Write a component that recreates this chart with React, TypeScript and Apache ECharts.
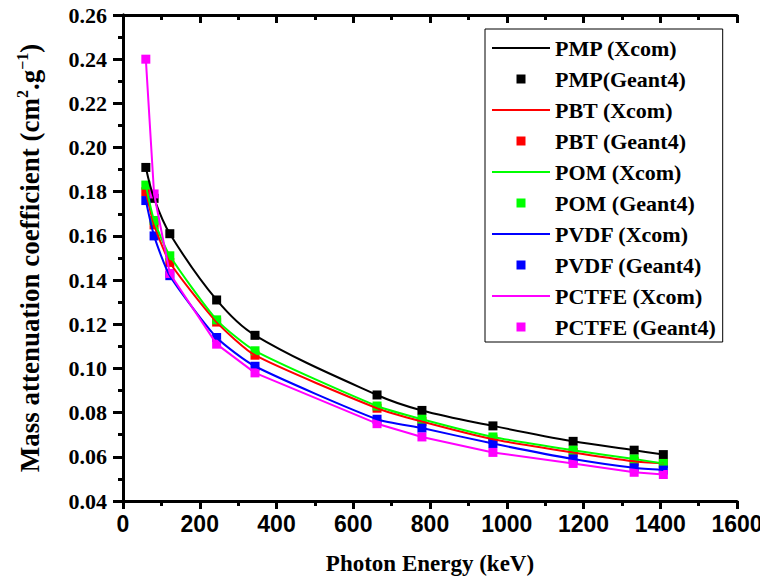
import React, { useEffect, useRef } from "react";
import * as echarts from "echarts";

const energies = [59.5, 81, 122, 244, 344, 662, 779, 964, 1173, 1332, 1408];
const pmp = [0.191, 0.177, 0.161, 0.131, 0.115, 0.088, 0.081, 0.074, 0.067, 0.063, 0.061];
const pbt = [0.180, 0.165, 0.148, 0.121, 0.106, 0.082, 0.076, 0.068, 0.062, 0.058, 0.057];
const pom = [0.183, 0.167, 0.151, 0.122, 0.108, 0.083, 0.077, 0.069, 0.063, 0.059, 0.057];
const pvdf = [0.176, 0.160, 0.142, 0.114, 0.101, 0.077, 0.073, 0.066, 0.059, 0.055, 0.054];
const pctfe = [0.240, 0.179, 0.143, 0.111, 0.098, 0.075, 0.069, 0.062, 0.057, 0.053, 0.052];

const polymers = [
  { name: "PMP", values: pmp, color: "#000000", smooth: 0.35 },
  { name: "PBT", values: pbt, color: "#ff0000", smooth: 0.2 },
  { name: "POM", values: pom, color: "#00ff00", smooth: 0.2 },
  { name: "PVDF", values: pvdf, color: "#0000ff", smooth: 0.2 },
  { name: "PCTFE", values: pctfe, color: "#ff00ff", smooth: 0 },
];
const geantSep = ["", " ", " ", " ", " "];

const SERIF = "'Liberation Serif', 'Times New Roman', serif";
const NARROW = "'Liberation Sans Narrow', 'Liberation Sans', sans-serif";

// icons drawn inside a fixed 58x9 box (invisible corner points fix the box)
const SQUARE_ICON = "path://M0,0L0,0M58,9L58,9M24.5,0L33.5,0L33.5,9L24.5,9Z";
const LINE_ICON = "path://M0,0L0,0M58,9L58,9M0,3.5L58,3.5L58,5.5L0,5.5Z";

export default function App() {
  const ref = useRef<HTMLDivElement>(null);
  useEffect(() => {
    if (!ref.current) return;
    const chart = echarts.init(ref.current, undefined, { renderer: "svg" });
    const series: any[] = [];
    const legendData: any[] = [];
    polymers.forEach((p, i) => {
      const lineName = `${p.name} (Xcom)`;
      const ptsName = `${p.name}${geantSep[i]}(Geant4)`;
      const data = energies.map((e, k) => [e, p.values[k]]);
      series.push({
        name: lineName,
        type: "line",
        data,
        symbol: "none",
        smooth: p.smooth,
        lineStyle: { color: p.color, width: 2 },
        itemStyle: { color: p.color, opacity: 1 },
      });
      series.push({
        name: ptsName,
        type: "scatter",
        data,
        symbol: "rect",
        symbolSize: 9,
        itemStyle: { color: p.color, opacity: 1 },
      });
      legendData.push({ name: lineName, icon: LINE_ICON, itemStyle: { color: p.color, opacity: 1 } });
      legendData.push({ name: ptsName, icon: SQUARE_ICON, itemStyle: { color: p.color, opacity: 1 } });
    });

    const axisLine = { show: true, lineStyle: { color: "#000", width: 3 } };
    chart.setOption({
      animation: false,
      backgroundColor: "#fff",
      grid: { left: 123, right: 31, top: 15, bottom: 87, containLabel: false },
      legend: {
        data: legendData,
        orient: "vertical",
        left: 485,
        top: 29,
        itemWidth: 58,
        itemHeight: 9,
        itemGap: 9,
        padding: [8, 7, 4, 7],
        backgroundColor: "#fff",
        borderColor: "#000",
        borderWidth: 1,
        textStyle: {
          fontFamily: SERIF,
          fontWeight: "bold",
          fontSize: 22,
          lineHeight: 22,
          color: "#000",
        },
      },
      xAxis: [
        {
          type: "value",
          min: 0,
          max: 1600,
          interval: 200,
          position: "bottom",
          name: "Photon Energy (keV)",
          nameLocation: "middle",
          nameGap: 51,
          nameTextStyle: { fontFamily: SERIF, fontWeight: "bold", fontSize: 23, color: "#000" },
          axisLine,
          axisTick: { show: true, inside: false, length: 8, lineStyle: { color: "#000", width: 3 } },
          minorTick: { show: true, splitNumber: 2, length: 5, lineStyle: { color: "#000", width: 3 } },
          axisLabel: {
            fontFamily: NARROW,
            fontWeight: "bold",
            fontSize: 23,
            color: "#000",
            margin: 11,
            formatter: (v: number) => String(v),
          },
          splitLine: { show: false },
          minorSplitLine: { show: false },
        },
        {
          type: "value",
          min: 0,
          max: 1600,
          interval: 200,
          position: "top",
          axisLine,
          axisTick: { show: true, inside: true, length: 8, lineStyle: { color: "#000", width: 3 } },
          minorTick: { show: true, splitNumber: 2, length: 5, lineStyle: { color: "#000", width: 3 } },
          axisLabel: { show: false },
          splitLine: { show: false },
        },
      ],
      yAxis: [
        {
          type: "value",
          min: 0.04,
          max: 0.26,
          interval: 0.02,
          position: "left",
          name: "Mass attenuation coefficient (cm{s|2}.g{s|−1})",
          nameLocation: "middle",
          nameGap: 77,
          nameTextStyle: {
            fontFamily: SERIF,
            fontWeight: "bold",
            fontSize: 27,
            lineHeight: 32,
            color: "#000",
            rich: {
              s: { fontFamily: SERIF, fontWeight: "bold", fontSize: 16, lineHeight: 32, verticalAlign: "top", color: "#000" },
            },
          },
          axisLine,
          axisTick: { show: true, inside: false, length: 10, lineStyle: { color: "#000", width: 3 } },
          minorTick: { show: true, splitNumber: 2, length: 5, lineStyle: { color: "#000", width: 3 } },
          axisLabel: {
            fontFamily: SERIF,
            fontWeight: "bold",
            fontSize: 22,
            color: "#000",
            margin: 16,
            formatter: (v: number) => v.toFixed(2),
          },
          splitLine: { show: false },
          minorSplitLine: { show: false },
        },
        {
          type: "value",
          min: 0.04,
          max: 0.26,
          interval: 0.02,
          position: "right",
          axisLine,
          axisTick: { show: true, inside: true, length: 8, lineStyle: { color: "#000", width: 3 } },
          minorTick: { show: true, splitNumber: 2, length: 5, lineStyle: { color: "#000", width: 3 } },
          axisLabel: { show: false },
          splitLine: { show: false },
        },
      ],
      series,
    });
    return () => chart.dispose();
  }, []);
  return <div ref={ref} style={{ width: 768, height: 588, margin: -8 }} />;
}
